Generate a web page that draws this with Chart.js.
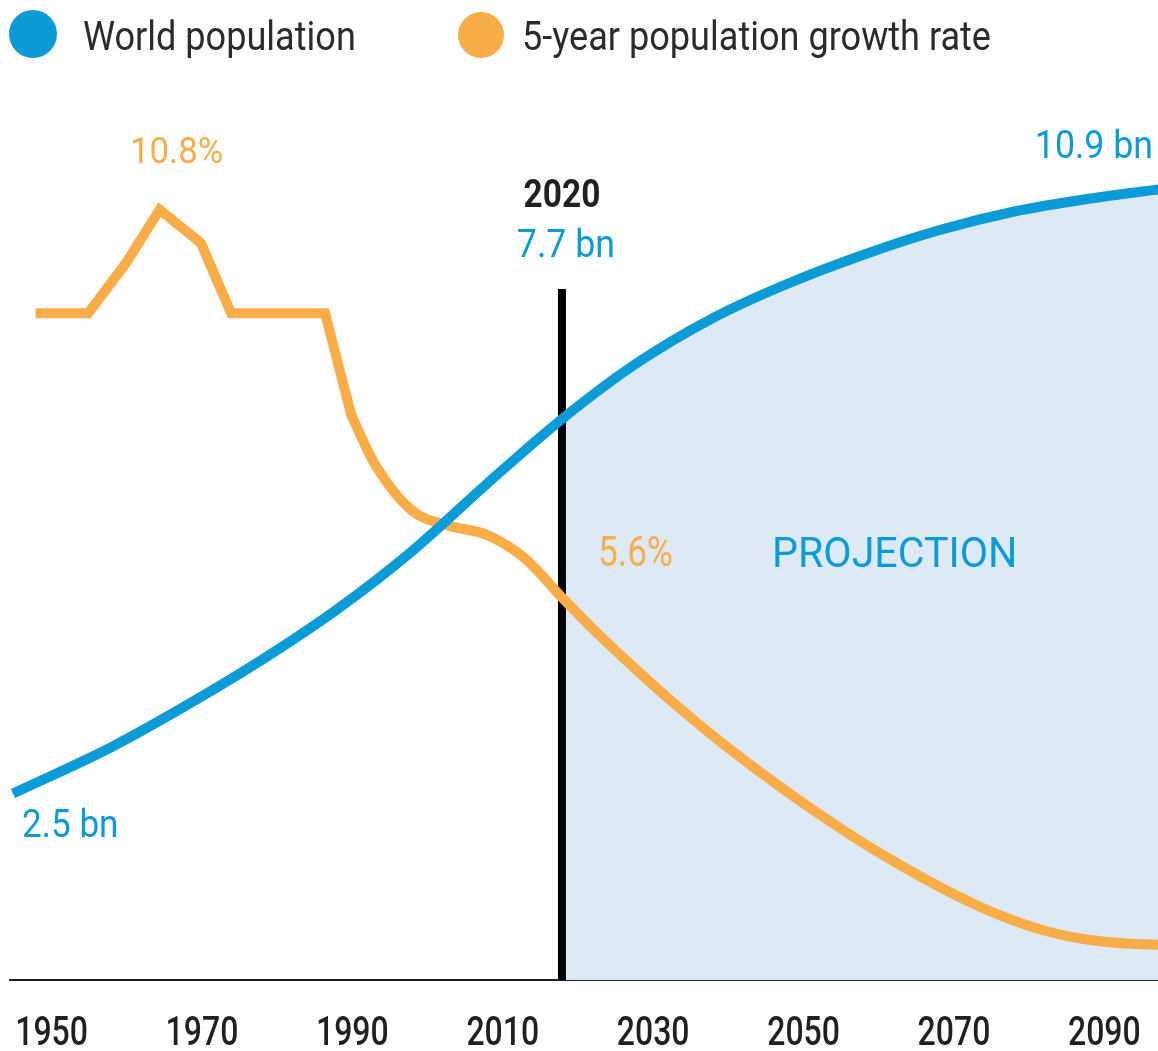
<!DOCTYPE html>
<html>
<head>
<meta charset="utf-8">
<script src="https://cdn.jsdelivr.net/npm/chart.js@4"></script>
<style>
  html, body { margin: 0; padding: 0; background: #fff; }
  #wrap { width: 1158px; height: 1051px; position: relative; }
</style>
</head>
<body>
<div id="wrap"><canvas id="popChart"></canvas></div>
<script>
const tickYears = [1950, 1970, 1990, 2010, 2030, 2050, 2070, 2090];
const markYear = 2020;

// world population, billions
const popYears = [1947, 1960, 1970, 1980, 1990, 2000, 2010, 2020, 2030, 2040, 2050, 2060, 2070, 2080, 2090, 2100];
const popValues = [2.5, 3.14, 3.72, 4.35, 5.05, 5.86, 6.80, 7.7, 8.48, 9.10, 9.58, 9.98, 10.32, 10.58, 10.76, 10.9];

// 5-year growth rate, %  (early part has straight segments, later part is smooth)
const rateYearsEarly = [1950, 1957, 1962, 1966.5, 1972, 1976, 1988.5, 1992];
const rateEarly = [9.41, 9.41, 10.08, 10.8, 10.35, 9.41, 9.41, 8.04];
const rateYearsLate = [1992, 1995, 2000, 2005, 2010, 2015, 2020, 2025, 2030, 2035, 2040, 2045,
  2050, 2055, 2060, 2065, 2070, 2075, 2080, 2085, 2090, 2095, 2100];
const rateLate = [8.04, 7.41, 6.77, 6.56, 6.44, 6.13, 5.6, 5.09, 4.62, 4.17, 3.75, 3.36,
  2.99, 2.64, 2.31, 2.01, 1.73, 1.48, 1.27, 1.11, 1.01, 0.96, 0.94];

const BLUE = '#0b9bd7';
const ORANGE = '#f9ad48';
const FILL = '#dee9f6';
const DARK = '#231f20';

const pts = (xs, ys) => xs.map((x, i) => ({ x: x, y: ys[i] }));
const projYears = popYears.filter(y => y >= markYear);
const projValues = popValues.slice(popYears.length - projYears.length);

// text drawn narrower than the regular face
function drawText(ctx, str, x, y, font, color, align, sx) {
  ctx.save();
  ctx.font = font;
  ctx.fillStyle = color;
  ctx.textBaseline = 'alphabetic';
  ctx.textAlign = 'left';
  const w = ctx.measureText(str).width * sx;
  const left = align === 'center' ? x - w / 2 : align === 'right' ? x - w : x;
  ctx.translate(left, y);
  ctx.scale(sx, 1);
  ctx.fillText(str, 0, 0);
  ctx.restore();
}

const overlay = {
  id: 'overlay',
  afterDatasetDraw(chart, args) {
    if (args.index !== 0) return;
    // 2020 divider, above the projection shading but under the lines
    const ctx = chart.ctx;
    const x = chart.scales.x.getPixelForValue(markYear);
    ctx.save();
    ctx.strokeStyle = '#000';
    ctx.lineWidth = 8;
    ctx.beginPath();
    ctx.moveTo(x, 289);
    ctx.lineTo(x, chart.chartArea.bottom);
    ctx.stroke();
    ctx.restore();
  },
  afterDraw(chart) {
    const ctx = chart.ctx;
    const xs = chart.scales.x;
    const f = 'Roboto, "Noto Sans", sans-serif';

    // legend
    ctx.save();
    ctx.fillStyle = BLUE;
    ctx.beginPath(); ctx.arc(33, 34, 24, 0, Math.PI * 2); ctx.fill();
    ctx.fillStyle = ORANGE;
    ctx.beginPath(); ctx.arc(481, 35, 23, 0, Math.PI * 2); ctx.fill();
    ctx.restore();
    drawText(ctx, 'World population', 83, 50, '41px ' + f, '#2b2b2b', 'left', 0.88);
    drawText(ctx, '5-year population growth rate', 522, 50, '41px ' + f, '#2b2b2b', 'left', 0.88);

    // year labels
    xs.ticks.forEach(t => {
      drawText(ctx, String(t.value), xs.getPixelForValue(t.value) + 16, 1045, '500 40px ' + f, DARK, 'center', 0.8);
    });

    // annotations
    const markX = xs.getPixelForValue(markYear);
    const peak = Math.max(...rateEarly);
    const peakX = xs.getPixelForValue(rateYearsEarly[rateEarly.indexOf(peak)]);
    drawText(ctx, peak.toFixed(1) + '%', peakX + 17, 163, '37px ' + f, ORANGE, 'center', 0.94);
    drawText(ctx, String(markYear), markX, 207, 'bold 38px ' + f, DARK, 'center', 0.88);
    drawText(ctx, popValues[popYears.indexOf(markYear)].toFixed(1) + ' bn', markX + 4, 257, '38px ' + f, BLUE, 'center', 0.94);
    drawText(ctx, popValues[popValues.length - 1].toFixed(1) + ' bn', 1153, 158, '39px ' + f, BLUE, 'right', 0.915);
    drawText(ctx, popValues[0].toFixed(1) + ' bn', 22, 837, '39px ' + f, BLUE, 'left', 0.9);
    drawText(ctx, rateLate[rateYearsLate.indexOf(markYear)].toFixed(1) + '%', 598, 566, '42px ' + f, ORANGE, 'left', 0.84);
    drawText(ctx, 'PROJECTION', 772, 567, '42px ' + f, BLUE, 'left', 0.98);
  }
};

new Chart(document.getElementById('popChart'), {
  type: 'line',
  data: {
    datasets: [
      {
        label: 'Projection',
        data: pts(projYears, projValues),
        yAxisID: 'yPop',
        borderWidth: 0,
        backgroundColor: FILL,
        fill: 'start',
        cubicInterpolationMode: 'monotone',
        order: 3
      },
      {
        label: '5-year population growth rate',
        data: pts(rateYearsEarly, rateEarly),
        yAxisID: 'yRate',
        borderColor: ORANGE,
        borderWidth: 10,
        borderJoinStyle: 'miter',
        tension: 0,
        fill: false,
        order: 1
      },
      {
        label: '5-year population growth rate (later)',
        data: pts(rateYearsLate, rateLate),
        yAxisID: 'yRate',
        borderColor: ORANGE,
        borderWidth: 10,
        borderCapStyle: 'round',
        cubicInterpolationMode: 'monotone',
        fill: false,
        order: 1
      },
      {
        label: 'World population',
        data: pts(popYears, popValues),
        yAxisID: 'yPop',
        borderColor: BLUE,
        borderWidth: 10,
        cubicInterpolationMode: 'monotone',
        fill: false,
        order: 0
      }
    ]
  },
  options: {
    responsive: true,
    maintainAspectRatio: false,
    animation: false,
    layout: { padding: { top: 100, left: 10, right: 0, bottom: 71 } },
    elements: { point: { radius: 0 } },
    plugins: { legend: { display: false }, tooltip: { enabled: false } },
    scales: {
      x: {
        type: 'linear',
        min: 1946.6,
        max: 2099.26,
        afterBuildTicks: axis => { axis.ticks = tickYears.map(v => ({ value: v })); },
        ticks: { display: false },
        grid: { display: false, drawTicks: false },
        border: { display: true, color: '#1e1e1e', width: 2 }
      },
      yPop: { display: false, min: -0.09, max: 12.132 },
      yRate: { display: false, position: 'right', min: 0.47, max: 12.27 }
    }
  },
  plugins: [overlay]
});
</script>
</body>
</html>
